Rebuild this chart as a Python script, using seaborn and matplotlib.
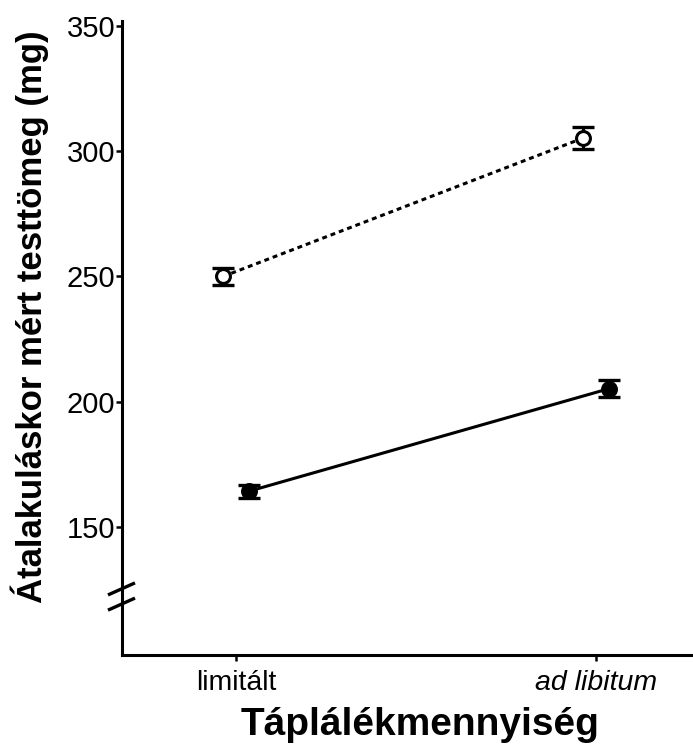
import matplotlib
matplotlib.use("Agg")
import matplotlib.pyplot as plt
import pandas as pd
import seaborn as sns

# Group means and standard errors of body mass at metamorphosis (mg)
food_levels = ["limitált", "ad libitum"]
groups = ["1. csoport", "2. csoport"]
means_group1 = [250.0, 305.2]
se_group1 = [3.5, 4.4]
means_group2 = [164.3, 205.2]
se_group2 = [2.6, 3.4]

y_ticks = [150, 200, 250, 300, 350]

df = pd.DataFrame({
    "food": food_levels * 2,
    "group": [groups[0]] * 2 + [groups[1]] * 2,
    "mass": means_group1 + means_group2,
    "se": se_group1 + se_group2,
})

sns.set_theme(style="ticks")
plt.rcParams["font.family"] = ["Liberation Sans", "DejaVu Sans"]
plt.rcParams["text.color"] = "black"
plt.rcParams["axes.labelcolor"] = "black"
plt.rcParams["xtick.color"] = "black"
plt.rcParams["ytick.color"] = "black"

fig = plt.figure(figsize=(6.93, 7.45), dpi=100)
ax = fig.add_axes([0.176, 0.121, 0.824, 0.851])

dodge_w = 0.072
sns.pointplot(
    data=df, x="food", y="mass", hue="group", order=food_levels,
    hue_order=groups, palette=["black", "black"], markers=["o", "o"],
    linestyles=[(0, (1.6, 1.3)), "-"], dodge=dodge_w, errorbar=None,
    legend=False, ax=ax, linewidth=2.2, markersize=10,
    markeredgewidth=2.2, zorder=3,
)

# open markers for the first group
ax.lines[0].set_markerfacecolor("white")

# error bars (± SE) at the dodged point positions
for line, g in zip(ax.lines[:2], groups):
    xs = line.get_xdata()
    sub = df[df["group"] == g].set_index("food").loc[food_levels]
    ax.errorbar(xs, sub["mass"], yerr=sub["se"], fmt="none", ecolor="black",
                elinewidth=2.2, capsize=8, capthick=2.4, zorder=2)

ax.set_ylim(99, 352)
ax.set_xlim(-0.317, 1.27)
ax.set_yticks(y_ticks)
ax.set_yticklabels([str(t) for t in y_ticks], fontsize=21, color="black")
ax.set_xticks([0, 1])
ax.set_xticklabels(food_levels, fontsize=20.5, color="black")
ax.get_xticklabels()[1].set_style("italic")

ax.tick_params(axis="y", length=4, width=1.8, pad=1, colors="black")
ax.tick_params(axis="x", length=4, width=1.8, pad=7, colors="black")

for side in ["top", "right"]:
    ax.spines[side].set_visible(False)
for side in ["left", "bottom"]:
    ax.spines[side].set_linewidth(2.2)
    ax.spines[side].set_color("black")

ax.set_ylabel("Átalakuláskor mért testtömeg (mg)", fontsize=25,
              fontweight="bold", color="black")
ax.yaxis.set_label_coords(-0.128, 0.534)
ax.set_xlabel("Táplálékmennyiség", fontsize=28, fontweight="bold",
              color="black")
ax.xaxis.set_label_coords(0.522, -0.083)

# axis break marks on the y axis
for y0 in (0.104, 0.080):
    ax.plot([-0.0245, 0.0228], [y0 - 0.0095, y0 + 0.0095],
            transform=ax.transAxes, color="black", lw=2.4, clip_on=False,
            zorder=5, solid_capstyle="butt")

fig.savefig("out.png", dpi=100, facecolor="white")
